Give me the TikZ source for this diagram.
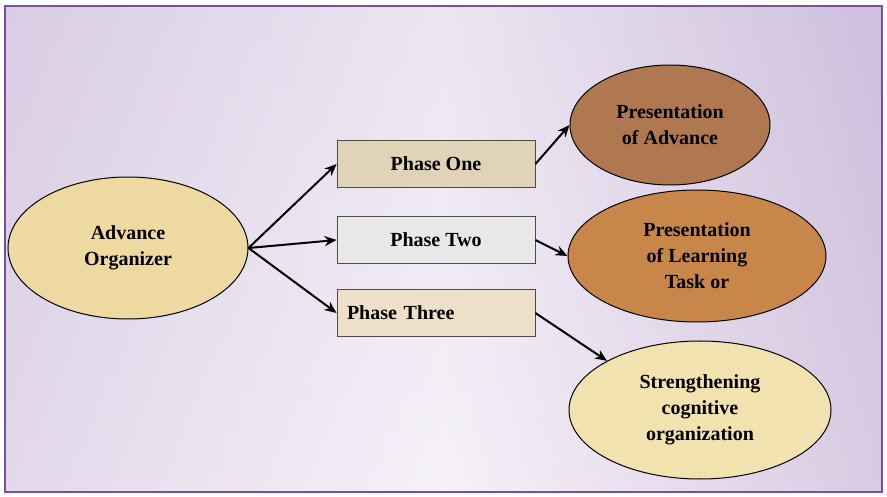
\documentclass[tikz,border=0pt]{standalone}
\usepackage{fontspec}
\setmainfont{Liberation Serif}
\usetikzlibrary{shapes.geometric,arrows.meta}
\definecolor{frame}{HTML}{7A4FA0}
\definecolor{bgA}{HTML}{F6F2F8}
\definecolor{bgB}{HTML}{B9A4CF}
\definecolor{cAO}{HTML}{EED9A0}
\definecolor{cP1}{RGB}{224,211,184}
\definecolor{cP2}{RGB}{232,232,232}
\definecolor{cP3}{RGB}{238,224,200}
\definecolor{cE1}{RGB}{176,120,80}
\definecolor{cE2}{RGB}{200,134,74}
\definecolor{cE3}{RGB}{242,226,176}
\tikzset{
  ell/.style={ellipse,draw=black,line width=1pt,align=center,font=\bfseries\fontsize{20}{26}\selectfont,inner sep=0pt},
  box/.style={rectangle,draw=black!70,line width=0.8pt,minimum width=198pt,minimum height=47pt,font=\bfseries\fontsize{20}{24}\selectfont},
  arr/.style={-{Stealth[length=12pt,width=10pt]},line width=2pt}
}
\begin{document}
\begin{tikzpicture}[x=1pt,y=-1pt]
\useasboundingbox (0,0) rectangle (887,497);
\shade[left color=bgB!70, right color=bgB, middle color=bgA] (5,6) rectangle (882,492);
\shade[top color=bgB!40, bottom color=bgA, opacity=0.5] (5,6) rectangle (882,492);
\draw[frame,line width=2pt] (5,6) rectangle (882,492);
\node[ell,fill=cAO,minimum width=240pt,minimum height=142pt] (ao) at (128,248) {Advance\\Organizer};
\node[box,fill=cP1] (p1) at (436,164) {Phase One};
\node[box,fill=cP2] (p2) at (436,240) {Phase Two};
\node[box,fill=cP3,text width=178pt,align=left] (p3) at (436,313) {Phase Three};
\node[ell,fill=cE1,minimum width=200pt,minimum height=120pt] (e1) at (670,125) {Presentation\\of Advance};
\node[ell,fill=cE2,minimum width=258pt,minimum height=132pt] (e2) at (697,256) {Presentation\\of Learning\\Task or};
\node[ell,fill=cE3,minimum width=262pt,minimum height=138pt] (e3) at (700,410) {Strengthening\\cognitive\\organization};
\draw[arr] (ao.east) -- (p1.west);
\draw[arr] (ao.east) -- (p2.west);
\draw[arr] (ao.east) -- (p3.west);
\draw[arr] (p1.east) -- (e1.west);
\draw[arr] (p2.east) -- (e2.west);
\draw[arr] (p3.east) -- (e3.north west);
\end{tikzpicture}
\end{document}
